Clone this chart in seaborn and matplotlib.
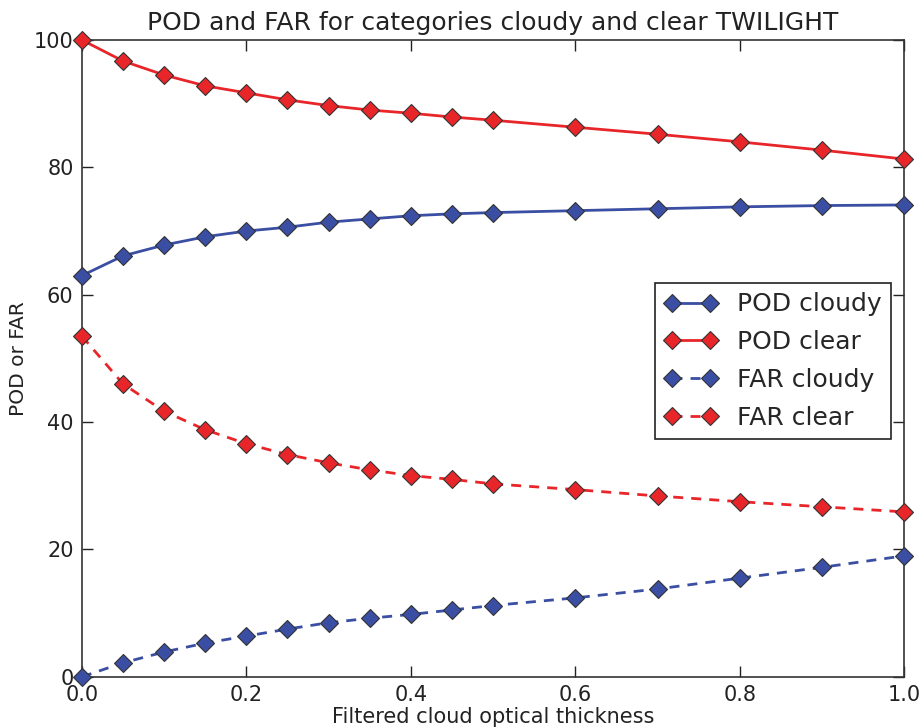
import matplotlib
matplotlib.use("Agg")
import matplotlib.pyplot as plt
import seaborn as sns
import pandas as pd

thickness = [0.0, 0.05, 0.1, 0.15, 0.2, 0.25, 0.3, 0.35, 0.4, 0.45, 0.5, 0.6, 0.7, 0.8, 0.9, 1.0]
pod_cloudy = [63.0, 66.1, 67.8, 69.1, 70.0, 70.6, 71.4, 71.9, 72.4, 72.7, 72.9, 73.2, 73.5, 73.8, 74.0, 74.1]
pod_clear = [100.0, 96.7, 94.5, 92.8, 91.7, 90.6, 89.7, 89.0, 88.5, 87.9, 87.4, 86.3, 85.2, 84.0, 82.7, 81.3]
far_cloudy = [0.0, 2.2, 3.9, 5.3, 6.4, 7.5, 8.5, 9.2, 9.8, 10.5, 11.2, 12.4, 13.8, 15.5, 17.2, 19.0]
far_clear = [53.5, 46.0, 41.7, 38.8, 36.6, 34.9, 33.6, 32.5, 31.6, 31.0, 30.3, 29.4, 28.4, 27.5, 26.7, 25.9]

series_names = ["POD cloudy", "POD clear", "FAR cloudy", "FAR clear"]
title = "POD and FAR for categories cloudy and clear TWILIGHT"
xlabel = "Filtered cloud optical thickness"
ylabel = "POD or FAR"

sns.set_style("ticks")
plt.rcParams['font.family'] = ['DejaVu Sans']

blue = "#3a4ea3"
red = "#e8262a"

fig = plt.figure(figsize=(9.2, 7.27), dpi=100)
ax = fig.add_axes([0.089, 0.069, 0.894, 0.876])

dash = (0, (3.6, 2.9))
styles = [
    (pod_cloudy, blue, "-"),
    (pod_clear, red, "-"),
    (far_cloudy, blue, dash),
    (far_clear, red, dash),
]
for name, (vals, col, ls) in zip(series_names, styles):
    df = pd.DataFrame({"x": thickness, "y": vals})
    sns.lineplot(data=df, x="x", y="y", ax=ax, color=col, linestyle=ls, linewidth=2,
                 marker="D", markersize=9, markeredgecolor="#333333", markeredgewidth=0.8,
                 markerfacecolor=col, label=name, clip_on=False, zorder=3)

ax.set_xlim(0, 1)
ax.set_ylim(0, 100)
ax.set_xticks([0.0, 0.2, 0.4, 0.6, 0.8, 1.0])
ax.set_yticks([0, 20, 40, 60, 80, 100])
ax.set_xticklabels(["0.0", "0.2", "0.4", "0.6", "0.8", "1.0"])
ax.tick_params(direction="in", length=8, width=1, top=True, right=True, labelsize=15,
               colors="#222222", pad=6)
for s in ax.spines.values():
    s.set_color("#333333")
    s.set_linewidth(1.2)
    s.set_visible(True)
ax.set_title(title, fontsize=18, color="#222222", pad=7)
ax.set_xlabel(xlabel, fontsize=15, color="#222222", labelpad=1)
ax.set_ylabel(ylabel, fontsize=14.5, color="#222222", labelpad=4)

leg = ax.legend(loc="upper right", bbox_to_anchor=(0.984, 0.6185), borderaxespad=0,
                numpoints=2, fontsize=18,
                frameon=True, fancybox=False, framealpha=1, edgecolor="#222222",
                handlelength=2.1, borderpad=0.38, labelspacing=0.55, handletextpad=0.8)
leg.get_frame().set_linewidth(1.2)

fig.savefig("out.png", dpi=100)
